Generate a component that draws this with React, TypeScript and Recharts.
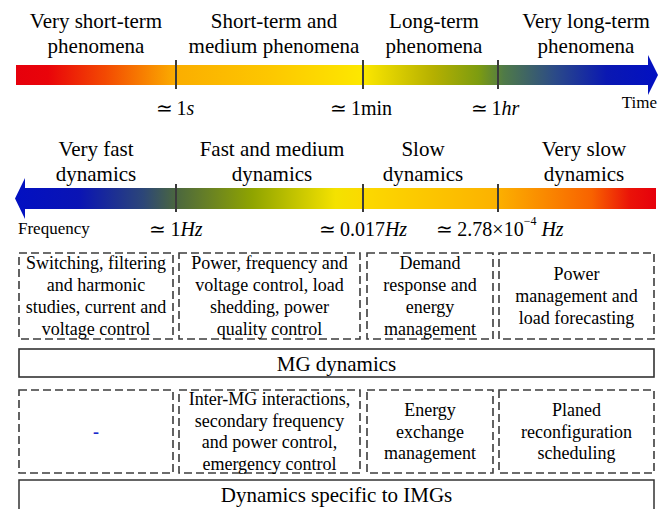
import { ComposedChart, XAxis, YAxis, ReferenceArea, ReferenceLine } from 'recharts'

// text content of the diagram
const timeClasses = [
  ['Very short-term', 'phenomena'],
  ['Short-term and', 'medium phenomena'],
  ['Long-term', 'phenomena'],
  ['Very long-term', 'phenomena']
]
const dynamicsClasses = [
  ['Very fast', 'dynamics'],
  ['Fast and medium', 'dynamics'],
  ['Slow', 'dynamics'],
  ['Very slow', 'dynamics']
]
const timeTicks = [
  { text: '≃\u20091', italic: 's' },
  { text: '≃\u20091min', italic: '' },
  { text: '≃\u20091', italic: 'hr' }
]
const freqTicks = [
  { text: '≃\u20091', italic: 'Hz' },
  { text: '≃\u20090.017', italic: 'Hz' },
  { text: '≃\u20092.78×10', sup: '−4', italic: ' Hz' }
]
const mgTasks = [
  ['Switching, filtering', 'and harmonic', 'studies, current and', 'voltage control'],
  ['Power, frequency and', 'voltage control, load', 'shedding, power', 'quality control'],
  ['Demand', 'response and', 'energy', 'management'],
  ['Power', 'management and', 'load forecasting']
]
const imgTasks = [
  ['-'],
  ['Inter-MG interactions,', 'secondary frequency', 'and power control,', 'emergency control'],
  ['Energy', 'exchange', 'management'],
  ['Planed', 'reconfiguration', 'scheduling']
]
const mgTitle = 'MG dynamics'
const imgTitle = 'Dynamics specific to IMGs'

// layout
const W = 670
const H = 509
const FONT = "'Liberation Serif', 'Times New Roman', serif"
const TICK_X = [176, 363, 498]
const BOX_X = [[19, 173], [179, 360], [367, 493], [499, 654]]
const TIME_CENTERS = [96, 274, 434, 586]
const DYN_CENTERS = [96, 272, 423, 584]
const TIME_LABEL_X = [175, 361, 495]
const FREQ_LABEL_X = [176, 363, 500]

const timeStops = [
  [0, '#e6000c'], [0.05, '#e9040a'], [0.14, '#f34a02'], [0.25, '#fbae00'],
  [0.4, '#fdc800'], [0.54, '#fde800'], [0.65, '#b5b000'], [0.72, '#7d9c10'],
  [0.76, '#4f7a48'], [0.84, '#2b4a88'], [0.92, '#0a18b2'], [1, '#0210c2']
]
const freqStops = [
  [0, '#0210c2'], [0.1, '#0a14b4'], [0.2, '#2c4678'], [0.25, '#4a6640'],
  [0.37, '#8fa400'], [0.5, '#f4e200'], [0.55, '#fcd800'], [0.75, '#fcb200'],
  [0.9, '#f86200'], [0.96, '#ea1208'], [1, '#e6000c']
]

function Lines({ cx, cy, lines, size, lineH, fill = '#000', weight = 'normal' }: any) {
  const start = cy - ((lines.length - 1) * lineH) / 2
  return (
    <text fontFamily={FONT} fontSize={size} fill={fill} fontWeight={weight} textAnchor="middle" dominantBaseline="central">
      {lines.map((l: string, i: number) => (
        <tspan key={i} x={cx} y={start + i * lineH}>{l}</tspan>
      ))}
    </text>
  )
}

const arrowShape = (dir: 'right' | 'left', id: string, stops: any[]) => (p: any) => {
  const { x, y, width, height } = p
  const head = 10
  const spread = 10
  const pts =
    dir === 'right'
      ? [[x, y], [x + width - head, y], [x + width - head, y - spread], [x + width, y + height / 2],
         [x + width - head, y + height + spread], [x + width - head, y + height], [x, y + height]]
      : [[x + width, y], [x + head, y], [x + head, y - spread], [x, y + height / 2],
         [x + head, y + height + spread], [x + head, y + height], [x + width, y + height]]
  return (
    <g>
      <defs>
        <linearGradient id={id} x1="0" y1="0" x2="1" y2="0">
          {stops.map(([o, c], i) => <stop key={i} offset={o} stopColor={c} />)}
        </linearGradient>
      </defs>
      <polygon points={pts.map((q) => q.join(',')).join(' ')} fill={`url(#${id})`} />
    </g>
  )
}

const boxShape = (lines: string[], dashed: boolean, size: number, lineH: number, fill = '#000', weight = 'normal') => (p: any) => {
  const { x, y, width, height } = p
  return (
    <g>
      <rect x={x} y={y} width={width} height={height} fill="none" stroke={dashed ? '#3c3c3c' : '#333'}
        strokeWidth={1.6} strokeDasharray={dashed ? '8 4' : undefined} />
      <Lines cx={x + width / 2} cy={y + height / 2 + (dashed ? 0 : 1)} lines={lines} size={size} lineH={lineH} fill={fill} weight={weight} />
    </g>
  )
}

const textShape = (lines: string[], size: number, lineH: number) => (p: any) => (
  <Lines cx={p.x + p.width / 2} cy={p.y + p.height / 2} lines={lines} size={size} lineH={lineH} />
)

const tickLabelShape = (t: any, anchor = 'middle') => (p: any) => (
  <text x={p.x + p.width / 2} y={p.y + p.height / 2} fontFamily={FONT} fontSize={20} textAnchor={anchor}
    dominantBaseline="central" fill="#000">
    <tspan>{t.text}</tspan>
    {t.sup && <tspan fontSize={12} dy={-8}>{t.sup}</tspan>}
    {t.italic && <tspan fontStyle="italic" dy={t.sup ? 8 : 0}>{t.italic}</tspan>}
  </text>
)

export default function App() {
  return (
    <div style={{ position: 'absolute', left: 0, top: 0, width: W, height: H, overflow: 'hidden', background: '#fff' }}>
      <ComposedChart width={W} height={H} data={[]} margin={{ top: 0, right: 0, bottom: 0, left: 0 }}>
        <XAxis type="number" dataKey="x" domain={[0, W]} hide allowDataOverflow />
        <YAxis type="number" dataKey="y" domain={[0, H]} reversed hide allowDataOverflow />

        {timeClasses.map((lines, i) => (
          <ReferenceArea key={`tc${i}`} x1={TIME_CENTERS[i] - 80} x2={TIME_CENTERS[i] + 80} y1={8} y2={58}
            ifOverflow="visible" shape={textShape(lines, 21, 25)} />
        ))}

        <ReferenceArea x1={16} x2={658} y1={65} y2={85} ifOverflow="visible"
          shape={arrowShape('right', 'gTime', timeStops)} />
        {TICK_X.map((x) => (
          <ReferenceLine key={`tt${x}`} segment={[{ x, y: 60 }, { x, y: 89 }]} stroke="#3a3a3a" strokeWidth={2} ifOverflow="visible" />
        ))}
        {timeTicks.map((t, i) => (
          <ReferenceArea key={`tl${i}`} x1={TIME_LABEL_X[i] - 30} x2={TIME_LABEL_X[i] + 30} y1={98} y2={118}
            ifOverflow="visible" shape={tickLabelShape(t)} />
        ))}
        <ReferenceArea x1={557} x2={657} y1={92} y2={112} ifOverflow="visible"
          shape={(p: any) => (
            <text x={p.x + p.width} y={p.y + p.height / 2} fontFamily={FONT} fontSize={17} textAnchor="end" dominantBaseline="central">Time</text>
          )} />

        {dynamicsClasses.map((lines, i) => (
          <ReferenceArea key={`dc${i}`} x1={DYN_CENTERS[i] - 80} x2={DYN_CENTERS[i] + 80} y1={136} y2={186}
            ifOverflow="visible" shape={textShape(lines, 21, 25)} />
        ))}

        <ReferenceArea x1={15} x2={656} y1={188} y2={209} ifOverflow="visible"
          shape={arrowShape('left', 'gFreq', freqStops)} />
        {TICK_X.map((x) => (
          <ReferenceLine key={`ft${x}`} segment={[{ x, y: 184 }, { x, y: 212 }]} stroke="#3a3a3a" strokeWidth={2} ifOverflow="visible" />
        ))}
        {freqTicks.map((t, i) => (
          <ReferenceArea key={`fl${i}`} x1={FREQ_LABEL_X[i] - 30} x2={FREQ_LABEL_X[i] + 30} y1={219} y2={239}
            ifOverflow="visible" shape={tickLabelShape(t)} />
        ))}
        <ReferenceArea x1={18} x2={118} y1={218} y2={238} ifOverflow="visible"
          shape={(p: any) => (
            <text x={p.x} y={p.y + p.height / 2} fontFamily={FONT} fontSize={17} textAnchor="start" dominantBaseline="central">Frequency</text>
          )} />

        {mgTasks.map((lines, i) => (
          <ReferenceArea key={`mg${i}`} x1={BOX_X[i][0]} x2={BOX_X[i][1]} y1={253} y2={339} ifOverflow="visible"
            shape={boxShape(lines, true, 18, 21.7)} />
        ))}
        <ReferenceArea x1={19} x2={654} y1={349} y2={377} ifOverflow="visible" shape={boxShape([mgTitle], false, 21, 22)} />

        {imgTasks.map((lines, i) => (
          <ReferenceArea key={`img${i}`} x1={BOX_X[i][0]} x2={BOX_X[i][1]} y1={390} y2={473} ifOverflow="visible"
            shape={boxShape(lines, true, 18, 21.5, i === 0 ? '#1a2acc' : '#000', i === 0 ? 'bold' : 'normal')} />
        ))}
        <ReferenceArea x1={19} x2={654} y1={480} y2={530} ifOverflow="visible"
          shape={(p: any) => (
            <g>
              <rect x={p.x} y={p.y} width={p.width} height={p.height} fill="none" stroke="#333" strokeWidth={1.5} />
              <Lines cx={p.x + p.width / 2} cy={p.y + 15} lines={[imgTitle]} size={21} lineH={22} />
            </g>
          )} />
      </ComposedChart>
    </div>
  )
}
